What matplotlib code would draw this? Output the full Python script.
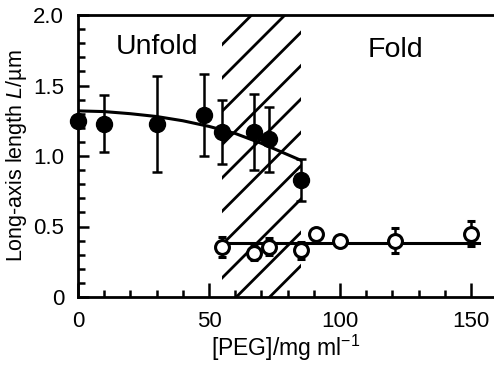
import numpy as np
import matplotlib
matplotlib.use("Agg")
import matplotlib.pyplot as plt
from matplotlib.ticker import MultipleLocator, FuncFormatter

plt.rcParams['font.family'] = ['Liberation Sans', 'DejaVu Sans']
plt.rcParams['mathtext.fontset'] = 'custom'
plt.rcParams['mathtext.rm'] = 'Liberation Sans'
plt.rcParams['mathtext.it'] = 'Liberation Sans:italic'
plt.rcParams['hatch.linewidth'] = 2.0
plt.rcParams['hatch.color'] = 'black'

# unfolded (filled) points
peg_unfold = [0, 10, 30, 48, 55, 67, 73, 85]
len_unfold = [1.25, 1.23, 1.23, 1.29, 1.17, 1.17, 1.12, 0.83]
err_unfold = [0.0, 0.20, 0.34, 0.29, 0.23, 0.27, 0.23, 0.15]

# folded (open) points
peg_fold = [55, 67, 73, 85, 91, 100, 121, 150]
len_fold = [0.355, 0.31, 0.355, 0.33, 0.445, 0.40, 0.40, 0.45]
err_fold = [0.07, 0.05, 0.06, 0.06, 0.03, 0.02, 0.09, 0.09]

# fitted lines
fit_unfold_x = [0, 10, 20, 30, 40, 50, 60, 70, 80, 85]
fit_unfold_y = [1.32, 1.315, 1.30, 1.28, 1.25, 1.21, 1.16, 1.09, 1.01, 0.97]
fit_fold_x = [55, 153]
fit_fold_y = [0.38, 0.38]

# coexistence region
region = [55, 85]

fig = plt.figure(figsize=(4.94, 3.65), dpi=100)
ax = fig.add_axes([78/494, 68/365, 1 - 78/494, 282/365])

ax.axvspan(region[0], region[1], facecolor='none', edgecolor='black',
           linewidth=0, hatch='/', zorder=1)

ax.plot(fit_unfold_x, fit_unfold_y, 'k-', linewidth=2.2, zorder=2)
ax.plot(fit_fold_x, fit_fold_y, 'k-', linewidth=2.2, zorder=2)

ax.errorbar(peg_unfold, len_unfold, yerr=err_unfold, fmt='o', color='black',
            markersize=11.5, elinewidth=1.8, capsize=3.5, capthick=1.8,
            zorder=3, clip_on=False)
ax.errorbar(peg_fold, len_fold, yerr=err_fold, fmt='o', color='black',
            markerfacecolor='white', markeredgecolor='black', markeredgewidth=2.2,
            markersize=10, elinewidth=1.8, capsize=3, capthick=1.8, zorder=3)

ax.text(30, 1.77, 'Unfold', fontsize=20.5, ha='center', va='center')
ax.text(121, 1.75, 'Fold', fontsize=20.5, ha='center', va='center')

ax.set_xlim(0, 158.8)
ax.set_ylim(0, 2.0)
ax.xaxis.set_major_locator(MultipleLocator(50))
ax.xaxis.set_minor_locator(MultipleLocator(10))
ax.yaxis.set_major_locator(MultipleLocator(0.5))
ax.yaxis.set_minor_locator(MultipleLocator(0.1))
ax.yaxis.set_major_formatter(FuncFormatter(lambda v, p: '0' if v == 0 else '%.1f' % v))

ax.tick_params(which='both', direction='in', width=1.8, labelsize=16)
ax.tick_params(which='major', length=8, pad=10)
ax.tick_params(which='minor', length=5)
ax.tick_params(axis='x', which='major', length=10, pad=10)
for s in ['left', 'bottom', 'top']:
    ax.spines[s].set_linewidth(2)
ax.spines['right'].set_visible(False)

ax.set_xlabel('[PEG]/mg ml$^{-1}$', fontsize=16.5, labelpad=1)
ax.set_ylabel('Long-axis length $L$/µm', fontsize=15.5, labelpad=3)

fig.savefig('out.png', dpi=100)
